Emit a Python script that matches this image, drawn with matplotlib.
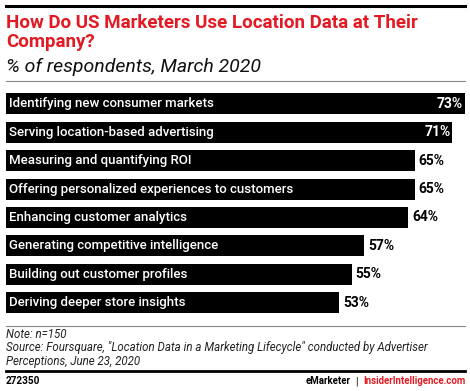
import matplotlib.pyplot as plt
from matplotlib.lines import Line2D

labels = [
    "Identifying new consumer markets",
    "Serving location-based advertising",
    "Measuring and quantifying ROI",
    "Offering personalized experiences to customers",
    "Enhancing customer analytics",
    "Generating competitive intelligence",
    "Building out customer profiles",
    "Deriving deeper store insights",
]
values = [73, 71, 65, 65, 64, 57, 55, 53]

RED = "#e21a23"
W, H = 470, 391

plt.rcParams['font.family'] = ['Roboto', 'DejaVu Sans']

fig = plt.figure(figsize=(W / 100, H / 100), dpi=100)

def fx(px):
    return px / W

def fy(py):
    return 1 - py / H

# top rule, title, subtitle, grey rule
fig.add_artist(Line2D([fx(6), fx(465)], [fy(6), fy(6)], color="black", lw=2.2))
fig.text(fx(6), fy(23), "How Do US Marketers Use Location Data at Their",
         color=RED, fontsize=13.5, fontweight="bold", va="center", ha="left")
fig.text(fx(6), fy(42), "Company?",
         color=RED, fontsize=13.5, fontweight="bold", va="center", ha="left")
fig.text(fx(6), fy(67), "% of respondents, March 2020", fontsize=14,
         style="italic", va="center", ha="left", color="#111111")
fig.add_artist(Line2D([fx(6), fx(465)], [fy(81), fy(81)], color="#888888", lw=0.8))

# bars
top, bottom = 89.8, 316.7
ax = fig.add_axes([fx(6), fy(bottom), fx(465) - fx(6), fy(top) - fy(bottom)])
pos = list(range(len(values)))
ax.barh(pos, values, height=0.74, color="black")
ax.set_xlim(0, 73)
ax.set_ylim(len(values) - 0.5, -0.5)
ax.axis("off")

for i, (lab, v) in enumerate(zip(labels, values)):
    ax.text(0.5, i, lab, color="white", fontsize=9.5, fontweight="medium",
            va="center", ha="left")
    if v >= 70:
        ax.text(v - 0.3, i, f"{v}%", color="white", fontsize=10,
                fontweight="bold", va="center", ha="right")
    else:
        ax.text(v + 0.6, i, f"{v}%", color="black", fontsize=10,
                fontweight="bold", va="center", ha="left")

# notes
fig.add_artist(Line2D([fx(6), fx(465)], [fy(326), fy(326)], color="#888888", lw=0.8))
fig.text(fx(6), fy(335), "Note: n=150", fontsize=8.3, style="italic", va="center",
         color="#222222")
fig.text(fx(6), fy(348), "Source: Foursquare, \"Location Data in a Marketing Lifecycle\" "
         "conducted by Advertiser", fontsize=8.3, style="italic", va="center",
         color="#222222")
fig.text(fx(6), fy(361), "Perceptions, June 23, 2020", fontsize=8.3,
         style="italic", va="center", color="#222222")
fig.add_artist(Line2D([fx(6), fx(465)], [fy(371), fy(371)], color="black", lw=2))

# footer
fig.text(fx(6), fy(381), "272350", fontsize=7.2, fontweight="bold", va="center")
t = fig.text(fx(465), fy(381), "InsiderIntelligence.com", fontsize=6.9,
             fontweight="bold", color=RED, va="center", ha="right")
fig.canvas.draw()
bb = t.get_window_extent()
x0 = bb.x0 / fig.dpi / fig.get_figwidth()
t2 = fig.text(x0 - fx(5), fy(381), "|", fontsize=7, va="center", ha="right")
fig.canvas.draw()
bb2 = t2.get_window_extent()
x1 = bb2.x0 / fig.dpi / fig.get_figwidth()
fig.text(x1 - fx(5), fy(381), "eMarketer", fontsize=6.9, fontweight="bold",
         va="center", ha="right")

fig.savefig("out.png", dpi=100)
